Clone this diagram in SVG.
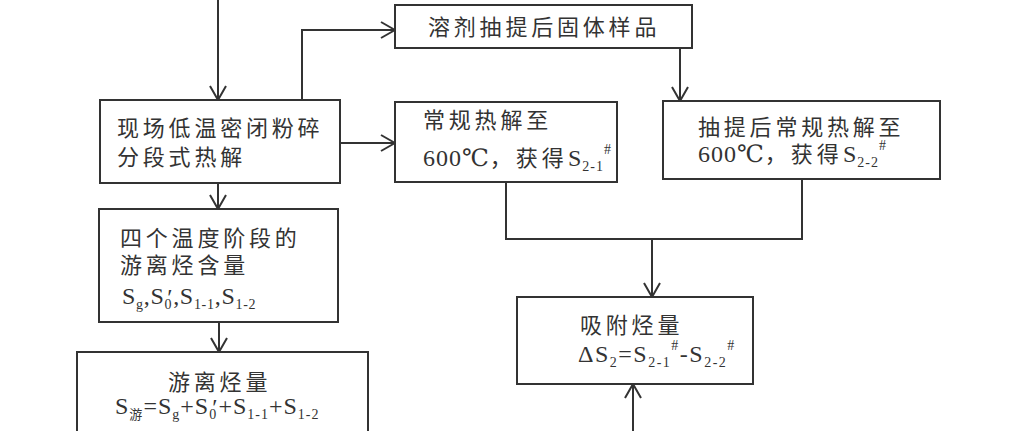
<svg xmlns="http://www.w3.org/2000/svg" width="1015" height="431" viewBox="0 0 1015 431">
<defs>
<style>
.box{fill:#fff;stroke:#333;stroke-width:2}
.ln{fill:none;stroke:#333;stroke-width:2}
.cj{font-family:"Noto Sans CJK SC","Noto Sans",sans-serif;font-size:22px;fill:#333;letter-spacing:3.8px}
.lt{font-family:"Liberation Serif","Times New Roman","DejaVu Serif",serif;font-size:24px;fill:#333}
.sb{font-size:14px}
.sc{font-family:"Noto Sans CJK SC",sans-serif;font-size:13px}
.zh{font-family:"Noto Sans CJK SC",sans-serif;font-size:22px}
</style>
<marker id="ah" markerUnits="userSpaceOnUse" viewBox="0 0 16 18" refX="15" refY="9" markerWidth="16" markerHeight="18" orient="auto">
<path d="M1,1 L15,9 L1,17" fill="none" stroke="#333" stroke-width="2"/>
</marker>
</defs>
<rect width="1015" height="431" fill="#fff"/>
<g id="connectors">
<path class="ln" d="M218,0 V100" marker-end="url(#ah)"/>
<path class="ln" d="M302,100 V30 H395" marker-end="url(#ah)"/>
<path class="ln" d="M340,143 H395" marker-end="url(#ah)"/>
<path class="ln" d="M680,48 V101" marker-end="url(#ah)"/>
<path class="ln" d="M218,183 V209" marker-end="url(#ah)"/>
<path class="ln" d="M219,322 V352" marker-end="url(#ah)"/>
<path class="ln" d="M506,182 V239 H802 V179"/>
<path class="ln" d="M652,239 V297" marker-end="url(#ah)"/>
<path class="ln" d="M633,431 V384" marker-end="url(#ah)"/>
</g>
<g id="n-crush">
<rect class="box" x="100" y="100" width="240" height="83"/>
<text class="cj" x="117" y="136">现场低温密闭粉碎</text>
<text class="cj" x="117" y="165">分段式热解</text>
</g>
<g id="n-solvent">
<rect class="box" x="395" y="5" width="297" height="43"/>
<text class="cj" x="428" y="35">溶剂抽提后固体样品</text>
</g>
<g id="n-pyro1">
<rect class="box" x="395" y="102" width="222" height="80"/>
<text class="cj" x="423" y="128">常规热解至</text>
<text class="lt" x="423" y="166" letter-spacing="1">600℃<tspan class="zh" letter-spacing="4">，获得</tspan>S<tspan class="sb" dy="5">2-1</tspan><tspan class="sb" dy="-17">#</tspan></text>
</g>
<g id="n-pyro2">
<rect class="box" x="663" y="101" width="277" height="78"/>
<text class="cj" x="698" y="135">抽提后常规热解至</text>
<text class="lt" x="698" y="162" letter-spacing="1">600℃<tspan class="zh" letter-spacing="4">，获得</tspan>S<tspan class="sb" dy="5">2-2</tspan><tspan class="sb" dy="-17">#</tspan></text>
</g>
<g id="n-four">
<rect class="box" x="99" y="209" width="239" height="113"/>
<text class="cj" x="120" y="246">四个温度阶段的</text>
<text class="cj" x="120" y="273">游离烃含量</text>
<text class="lt" x="122" y="304" letter-spacing="0.7">S<tspan class="sb" dy="5">g</tspan><tspan dy="-5">,S</tspan><tspan class="sb" dy="5">0</tspan><tspan dx="-5" dy="-4">′</tspan><tspan dy="-1">,S</tspan><tspan class="sb" dy="5">1-1</tspan><tspan dy="-5">,S</tspan><tspan class="sb" dy="5">1-2</tspan></text>
</g>
<g id="n-free">
<rect class="box" x="77" y="352" width="291" height="90"/>
<text class="cj" x="168" y="390">游离烃量</text>
<text class="lt" x="115" y="414" letter-spacing="1">S<tspan class="sc" dy="5">游</tspan><tspan dy="-5">=S</tspan><tspan class="sb" dy="5">g</tspan><tspan dy="-5">+S</tspan><tspan class="sb" dy="5">0</tspan><tspan dx="-5" dy="-4">′</tspan><tspan dy="-1">+S</tspan><tspan class="sb" dy="5">1-1</tspan><tspan dy="-5">+S</tspan><tspan class="sb" dy="5">1-2</tspan></text>
</g>
<g id="n-adsorb">
<rect class="box" x="517" y="297" width="236" height="87"/>
<text class="cj" x="580" y="333">吸附烃量</text>
<text class="lt" x="578" y="362" letter-spacing="1.5">ΔS<tspan class="sb" dy="5">2</tspan><tspan dy="-5">=S</tspan><tspan class="sb" dy="5">2-1</tspan><tspan class="sb" dy="-17">#</tspan><tspan dy="12">-S</tspan><tspan class="sb" dy="5">2-2</tspan><tspan class="sb" dy="-17">#</tspan></text>
</g>
</svg>
